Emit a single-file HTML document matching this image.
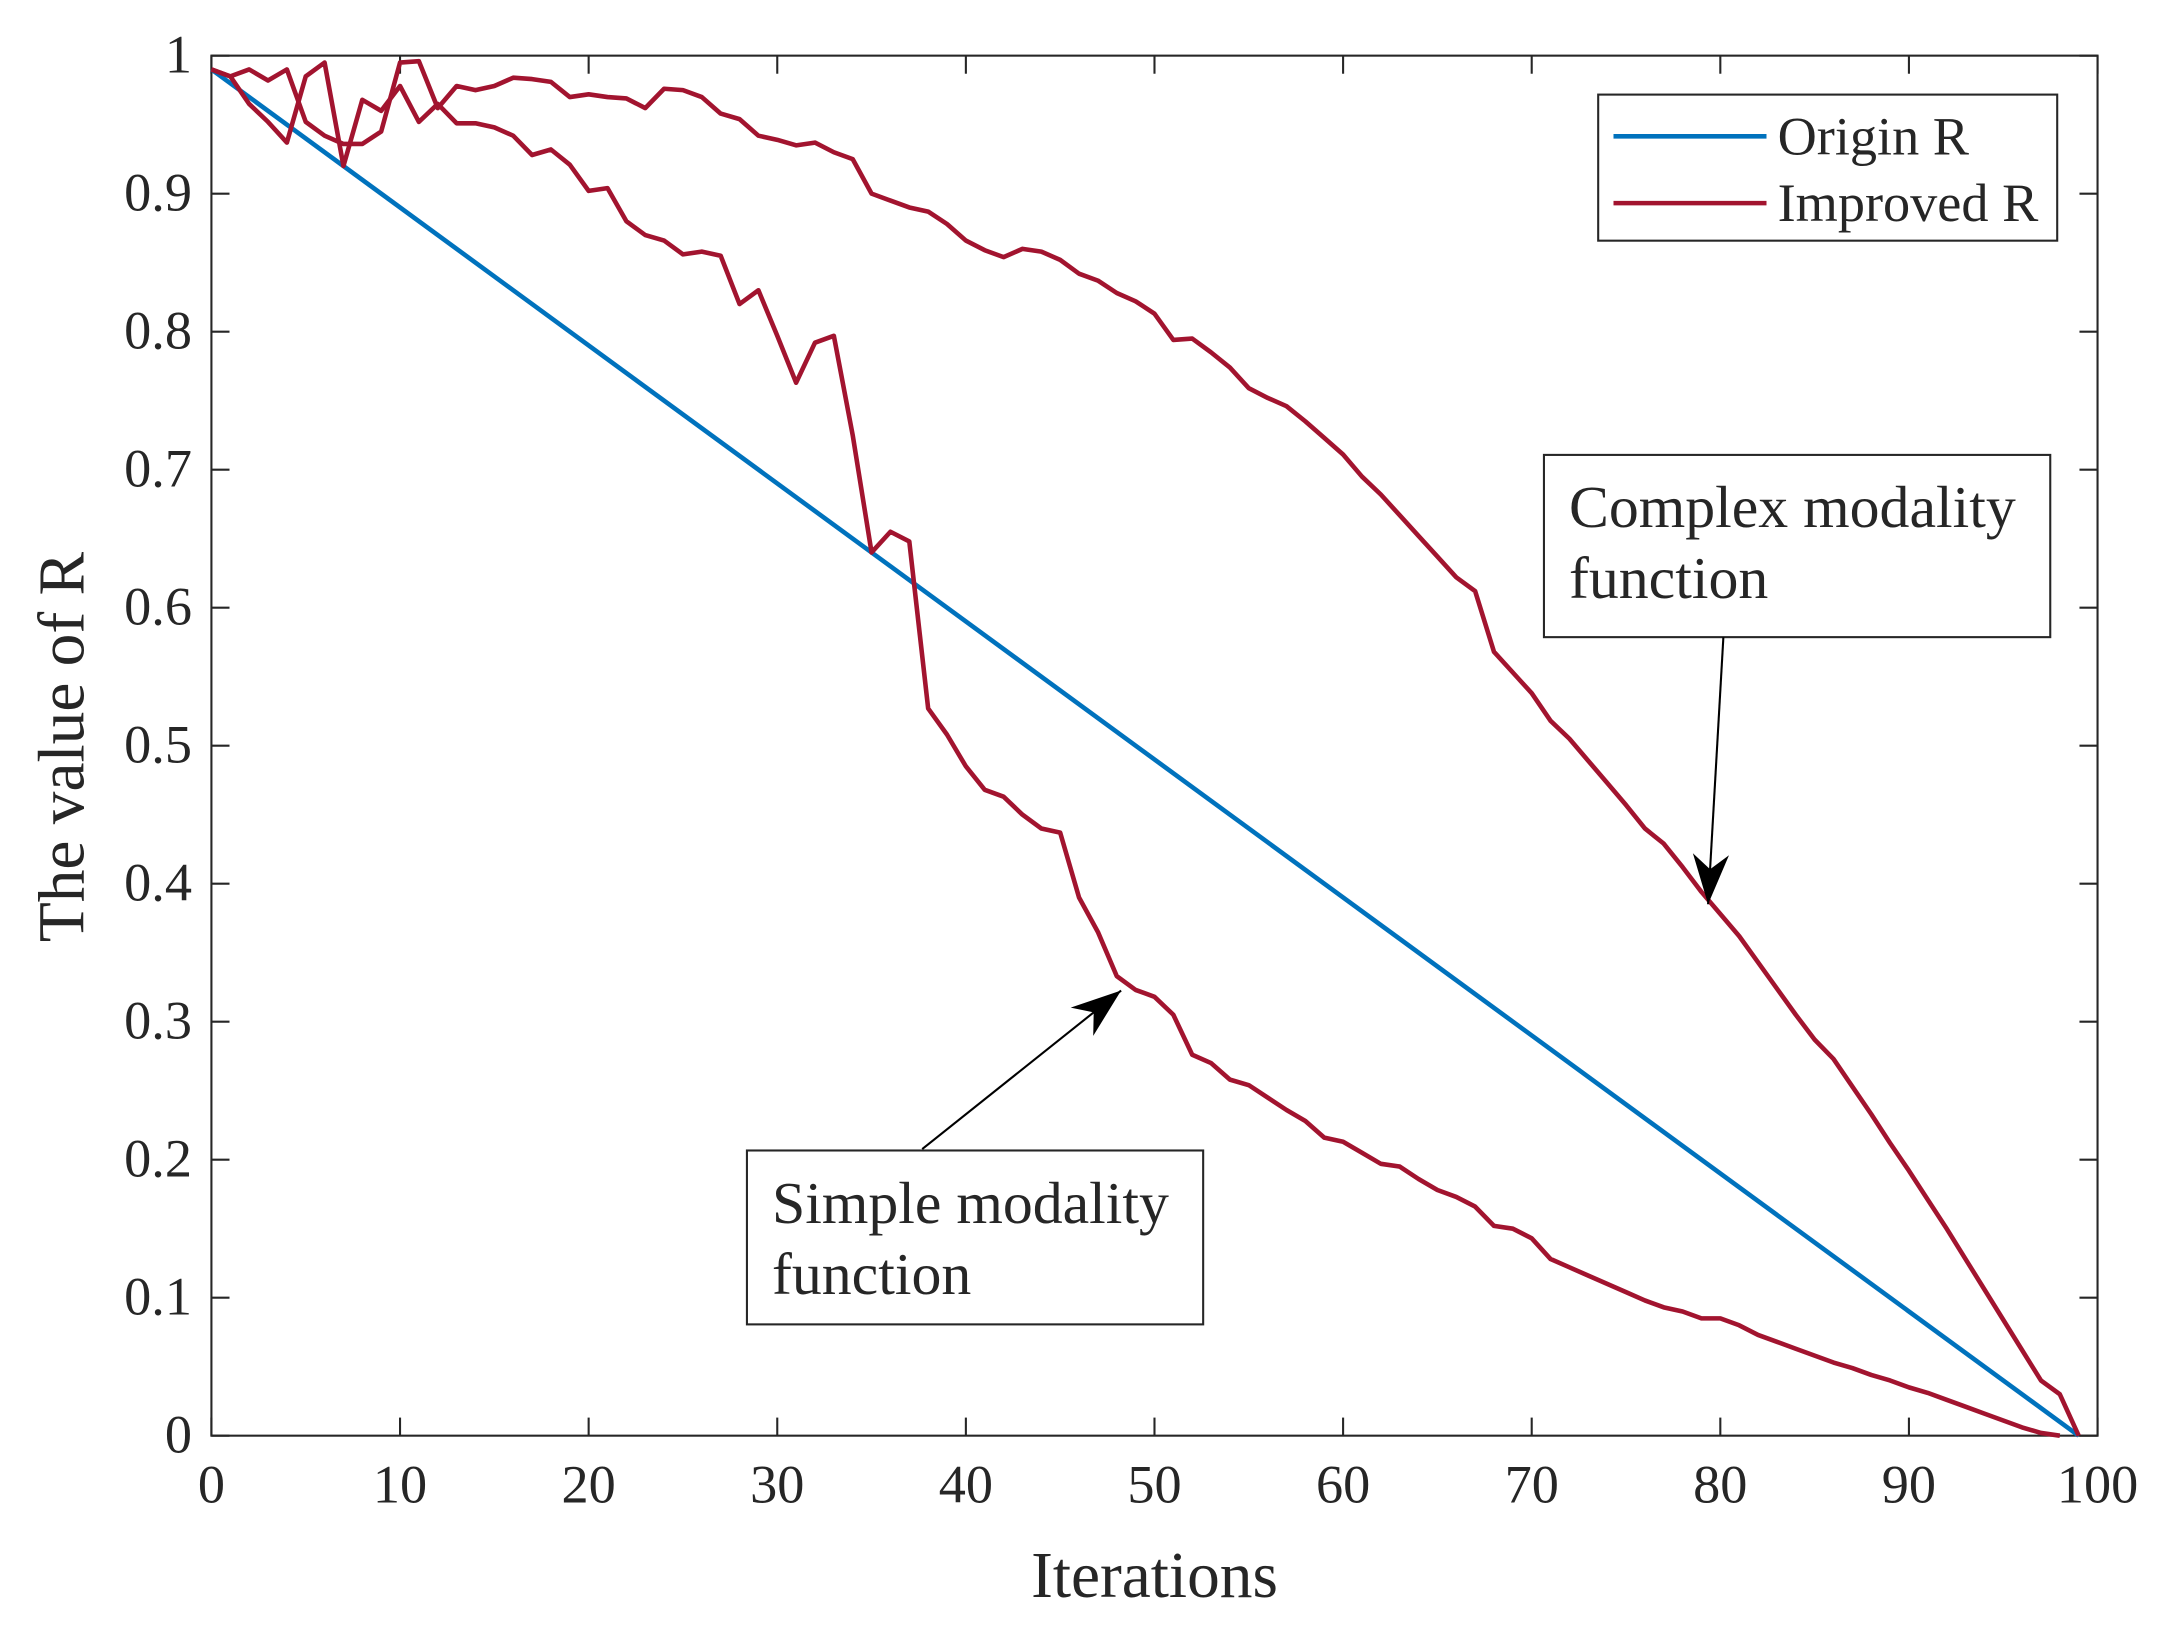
<!DOCTYPE html>
<html><head><meta charset="utf-8"><style>
html,body{margin:0;padding:0;background:#fff}
svg{display:block}
text{font-family:"Liberation Serif",serif;fill:#262626}
</style></head><body>
<svg id="chart" width="2181" height="1636" viewBox="0 0 1568 1176" preserveAspectRatio="none" xmlns="http://www.w3.org/2000/svg">
<rect width="1568" height="1176" fill="#fff"/>
<g id="plot"></g>
</svg>
<script>
const xTicks=[0,10,20,30,40,50,60,70,80,90,100];
const yTicks=[0,0.1,0.2,0.3,0.4,0.5,0.6,0.7,0.8,0.9,1];
const yTickLabels=["0","0.1","0.2","0.3","0.4","0.5","0.6","0.7","0.8","0.9","1"];
const originX=[0,99];
const originR=[0.99,0];
const simpleR=[0.99,0.985,0.965,0.952,0.937,0.985,0.995,0.92,0.968,0.96,0.978,0.952,0.965,0.951,0.951,0.948,0.942,0.928,0.932,0.921,0.902,0.904,0.88,0.87,0.866,0.856,0.858,0.855,0.82,0.83,0.797,0.763,0.792,0.797,0.725,0.64,0.655,0.648,0.527,0.508,0.485,0.468,0.463,0.45,0.44,0.437,0.39,0.365,0.333,0.323,0.318,0.305,0.276,0.27,0.258,0.254,0.245,0.236,0.228,0.216,0.213,0.205,0.197,0.195,0.186,0.178,0.173,0.166,0.152,0.15,0.143,0.128,0.122,0.116,0.11,0.104,0.098,0.093,0.09,0.085,0.085,0.08,0.073,0.068,0.063,0.058,0.053,0.049,0.044,0.04,0.035,0.031,0.026,0.021,0.016,0.011,0.006,0.002,0];
const complexR=[0.99,0.985,0.99,0.982,0.99,0.952,0.942,0.936,0.936,0.945,0.995,0.996,0.962,0.978,0.975,0.978,0.984,0.983,0.981,0.97,0.972,0.97,0.969,0.962,0.976,0.975,0.97,0.958,0.954,0.942,0.939,0.935,0.937,0.93,0.925,0.9,0.895,0.89,0.887,0.878,0.866,0.859,0.854,0.86,0.858,0.852,0.842,0.837,0.828,0.822,0.813,0.794,0.795,0.785,0.774,0.759,0.752,0.746,0.735,0.723,0.711,0.695,0.682,0.667,0.652,0.637,0.622,0.612,0.568,0.553,0.538,0.518,0.505,0.489,0.473,0.457,0.44,0.429,0.412,0.394,0.378,0.362,0.343,0.324,0.305,0.287,0.273,0.253,0.233,0.212,0.192,0.171,0.15,0.128,0.106,0.084,0.062,0.04,0.03,0];

const L=152,R=1508,T=40,B=1032;
const sx=v=>L+(R-L)*v/100, sy=v=>B-(B-T)*v;
const g=document.getElementById('plot');
const NS='http://www.w3.org/2000/svg';
function el(tag,attrs,parent){const e=document.createElementNS(NS,tag);for(const k in attrs)e.setAttribute(k,attrs[k]);(parent||g).appendChild(e);return e;}

const box=el('rect',{x:L,y:T,width:R-L,height:B-T,fill:'none',stroke:'#262626','stroke-width':1.5});



xTicks.forEach(t=>{
  const x=sx(t);
  el('line',{x1:x,y1:B,x2:x,y2:B-13,stroke:'#262626','stroke-width':1.5});
  el('line',{x1:x,y1:T,x2:x,y2:T+13,stroke:'#262626','stroke-width':1.5});
  const tx=el('text',{x:x,y:B+48,'font-size':39,'text-anchor':'middle'});
  tx.textContent=t;
  
  
});
yTicks.forEach((t,i)=>{
  const y=sy(t);
  el('line',{x1:L,y1:y,x2:L+13,y2:y,stroke:'#262626','stroke-width':1.5});
  el('line',{x1:R,y1:y,x2:R-13,y2:y,stroke:'#262626','stroke-width':1.5});
  const tx=el('text',{x:L-14,y:y+12,'font-size':39,'text-anchor':'end'});
  tx.textContent=yTickLabels[i];
  
  
});
const xl=el('text',{x:830,y:1148,'font-size':47,'text-anchor':'middle'});
xl.textContent='Iterations';


const yl=el('text',{x:0,y:0,'font-size':47,'text-anchor':'middle',transform:'translate(60,537) rotate(-90)'});
yl.textContent='The value of R';



function line(xs,ys,color,name){
  const d=ys.map((v,i)=>(i?'L':'M')+sx(xs[i]).toFixed(2)+','+sy(v).toFixed(2)).join(' ');
  const p=el('path',{d:d,fill:'none',stroke:color,'stroke-width':3.3,'stroke-linejoin':'round'});
  
  
}
line(originX,originR,'#0072BD','origin-r-line');
line(simpleR.map((_,i)=>i),simpleR,'#A2142F','improved-r-simple-line');
line(complexR.map((_,i)=>i),complexR,'#A2142F','improved-r-complex-line');

const lg=el('g',{});


el('rect',{x:1149,y:68,width:330,height:105,fill:'#fff',stroke:'#262626','stroke-width':1.5},lg);
el('line',{x1:1160,y1:98,x2:1270,y2:98,stroke:'#0072BD','stroke-width':3.3},lg);
el('line',{x1:1160,y1:146,x2:1270,y2:146,stroke:'#A2142F','stroke-width':3.3},lg);
const l1=el('text',{x:1278,y:111,'font-size':39},lg);l1.textContent='Origin R';


const l2=el('text',{x:1278,y:159,'font-size':39},lg);l2.textContent='Improved R';



function note(x,y,w,h,lines,name){
  const a=el('g',{});
  
  
  el('rect',{x:x,y:y,width:w,height:h,fill:'#fff',stroke:'#262626','stroke-width':1.5},a);
  lines.forEach((s,i)=>{const t=el('text',{x:x+18,y:y+52+i*51,'font-size':43},a);t.textContent=s;});
}
note(1110,327,364,131,['Complex modality','function'],'complex-annotation');
note(537,827,328,125,['Simple modality','function'],'simple-annotation');
function arrow(x1,y1,x2,y2,name){
  const a=el('g',{});
  
  
  el('line',{x1:x1,y1:y1,x2:x2,y2:y2,stroke:'#000','stroke-width':1.5},a);
  const ang=Math.atan2(y2-y1,x2-x1),len=36,wd=13;
  const bx=x2-len*Math.cos(ang),by=y2-len*Math.sin(ang);
  const nx=-Math.sin(ang),ny=Math.cos(ang);
  const mx=x2-len*0.7*Math.cos(ang),my=y2-len*0.7*Math.sin(ang);
  el('path',{d:`M${x2},${y2} L${bx+nx*wd},${by+ny*wd} L${mx},${my} L${bx-nx*wd},${by-ny*wd} Z`,fill:'#000'},a);
}
arrow(1239,458,1228,650,'complex-arrow');
arrow(663,826,806,712,'simple-arrow');
</script>
</body></html>
